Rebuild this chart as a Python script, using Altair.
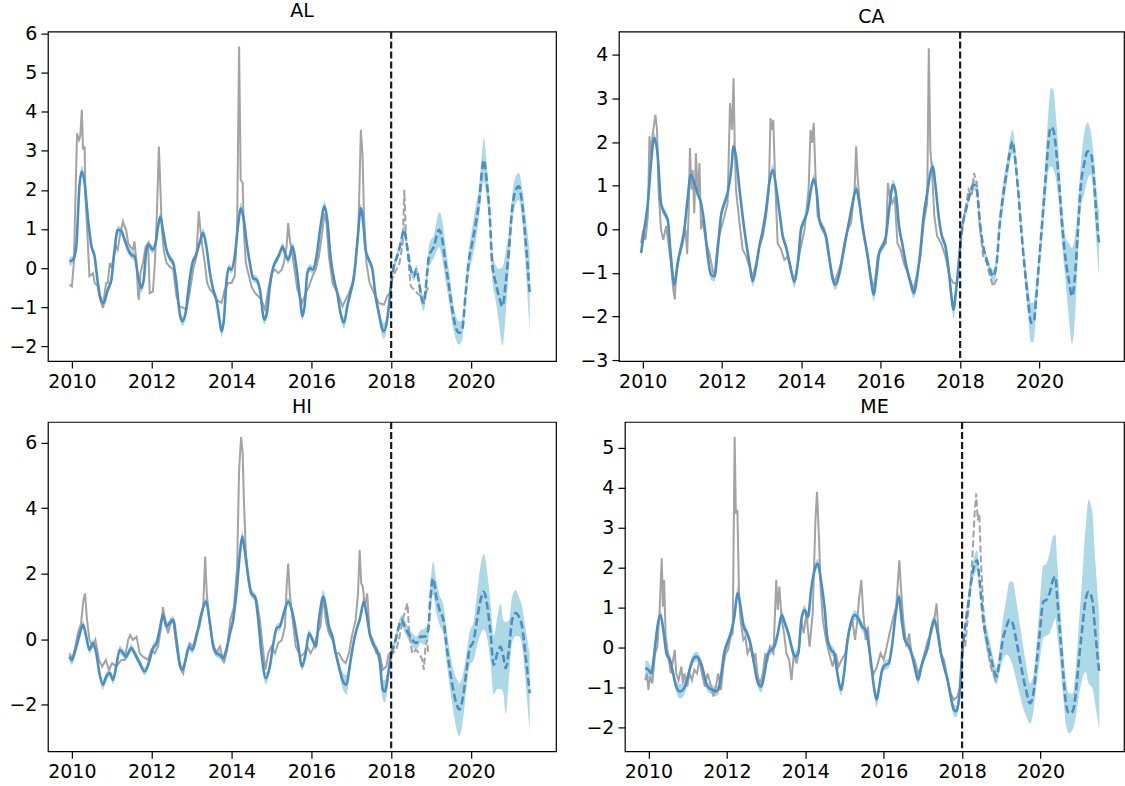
import altair as alt
import pandas as pd

# ---------------- data ----------------
# fitted / forecast series: (decimal year, value, band half-width)
AL_FIT = [
    (2009.94, 0.17, 0.12), (2010.03, 0.21, 0.10), (2010.11, 0.55, 0.10), (2010.19, 2.10, 0.12),
    (2010.25, 2.47, 0.15), (2010.32, 2.18, 0.12), (2010.40, 1.30, 0.10), (2010.49, 0.56, 0.10),
    (2010.57, 0.30, 0.10), (2010.65, -0.38, 0.10), (2010.74, -0.85, 0.12), (2010.80, -0.89, 0.12),
    (2010.90, -0.55, 0.10), (2010.99, -0.30, 0.10), (2011.07, 0.47, 0.10), (2011.15, 0.98, 0.10),
    (2011.24, 0.94, 0.10), (2011.32, 0.73, 0.10), (2011.41, 0.47, 0.10), (2011.49, 0.34, 0.10),
    (2011.57, 0.30, 0.10), (2011.66, -0.21, 0.10), (2011.74, -0.51, 0.12), (2011.80, -0.30, 0.10),
    (2011.87, 0.47, 0.10), (2011.93, 0.60, 0.10), (2012.02, 0.47, 0.10), (2012.10, 0.64, 0.10),
    (2012.16, 1.07, 0.10), (2012.22, 1.32, 0.12), (2012.28, 0.98, 0.10), (2012.37, 0.47, 0.10),
    (2012.45, 0.26, 0.10), (2012.54, 0.13, 0.10), (2012.62, -0.38, 0.10), (2012.70, -1.15, 0.12),
    (2012.77, -1.36, 0.12), (2012.85, -1.15, 0.12), (2012.94, -0.38, 0.10), (2013.02, 0.13, 0.10),
    (2013.10, 0.30, 0.10), (2013.20, 0.64, 0.10), (2013.29, 0.90, 0.12), (2013.37, 0.55, 0.10),
    (2013.46, -0.13, 0.10), (2013.54, -0.55, 0.10), (2013.62, -0.81, 0.10), (2013.71, -1.40, 0.12),
    (2013.75, -1.62, 0.15), (2013.81, -1.32, 0.12), (2013.87, -0.38, 0.10), (2013.93, 0.00, 0.10),
    (2014.00, -0.04, 0.10), (2014.08, 0.30, 0.10), (2014.17, 1.15, 0.12), (2014.23, 1.53, 0.15),
    (2014.31, 1.23, 0.12), (2014.38, 0.64, 0.10), (2014.46, 0.13, 0.10), (2014.54, -0.26, 0.10),
    (2014.63, -0.30, 0.10), (2014.71, -0.55, 0.10), (2014.82, -1.32, 0.12), (2014.88, -1.19, 0.12),
    (2014.96, -0.47, 0.10), (2015.05, 0.04, 0.10), (2015.13, 0.21, 0.10), (2015.21, 0.38, 0.10),
    (2015.28, 0.55, 0.10), (2015.34, 0.38, 0.10), (2015.42, 0.21, 0.10), (2015.53, 0.55, 0.10),
    (2015.61, 0.13, 0.10), (2015.73, -0.89, 0.12), (2015.77, -1.23, 0.12), (2015.83, -0.98, 0.12),
    (2015.90, -0.13, 0.10), (2015.96, 0.00, 0.10), (2016.04, -0.04, 0.10), (2016.13, 0.30, 0.10),
    (2016.23, 1.07, 0.10), (2016.33, 1.58, 0.12), (2016.40, 1.23, 0.10), (2016.48, 0.30, 0.10),
    (2016.57, -0.30, 0.10), (2016.65, -0.64, 0.10), (2016.73, -1.15, 0.12), (2016.82, -1.40, 0.15),
    (2016.90, -0.98, 0.12), (2016.98, -0.64, 0.10), (2017.07, -0.21, 0.10), (2017.15, 0.64, 0.10),
    (2017.24, 1.53, 0.12), (2017.30, 1.15, 0.10), (2017.36, 0.47, 0.10), (2017.44, 0.21, 0.10),
    (2017.53, -0.04, 0.10), (2017.61, -0.72, 0.12), (2017.69, -1.15, 0.15), (2017.78, -1.57, 0.20),
    (2017.82, -1.62, 0.20), (2017.90, -1.32, 0.15), (2018.00, -0.40, 0.12),
    (2018.07, 0.05, 0.12), (2018.15, 0.30, 0.12), (2018.24, 0.64, 0.12), (2018.32, 0.98, 0.15),
    (2018.40, 0.55, 0.12), (2018.49, -0.04, 0.10), (2018.57, -0.21, 0.12), (2018.63, -0.04, 0.12),
    (2018.70, -0.38, 0.15), (2018.78, -0.85, 0.20), (2018.82, -0.89, 0.20), (2018.90, -0.13, 0.25),
    (2018.95, 0.30, 0.30), (2019.07, 0.55, 0.30), (2019.20, 0.98, 0.45), (2019.28, 0.73, 0.50),
    (2019.36, 0.13, 0.45), (2019.45, -0.47, 0.40), (2019.53, -1.06, 0.35), (2019.61, -1.49, 0.30),
    (2019.70, -1.66, 0.30), (2019.78, -1.57, 0.25), (2019.86, -0.72, 0.25), (2019.94, 0.13, 0.30),
    (2020.03, 0.64, 0.40), (2020.12, 1.15, 0.45), (2020.20, 1.66, 0.40), (2020.27, 2.43, 0.45),
    (2020.32, 2.77, 0.55), (2020.39, 2.26, 0.45), (2020.47, 1.32, 0.35), (2020.53, 0.13, 0.40),
    (2020.62, -0.38, 0.45), (2020.70, -0.72, 0.70), (2020.79, -0.98, 1.00), (2020.87, -0.38, 0.80),
    (2020.95, 0.47, 0.50), (2021.03, 1.49, 0.35), (2021.12, 2.00, 0.35), (2021.20, 2.09, 0.35),
    (2021.28, 1.66, 0.40), (2021.36, 0.81, 0.60), (2021.47, -0.64, 1.05),
]
# observed series: (decimal year, value)
AL_OBS = [
    (2009.94, -0.42), (2010.00, -0.47), (2010.05, 0.13), (2010.13, 3.45), (2010.18, 3.28),
    (2010.21, 3.37), (2010.25, 4.05), (2010.28, 3.03), (2010.32, 3.11), (2010.34, 1.83),
    (2010.40, 0.64), (2010.44, -0.21), (2010.53, -0.13), (2010.57, -0.38), (2010.65, -0.47),
    (2010.69, -0.72), (2010.78, -1.02), (2010.82, -0.64), (2010.86, -0.38), (2010.90, -0.38),
    (2010.95, 0.13), (2010.99, 0.00), (2011.03, 0.21), (2011.11, 0.55), (2011.15, 0.47),
    (2011.20, 0.81), (2011.28, 1.19), (2011.32, 1.07), (2011.36, 0.98), (2011.41, 0.64),
    (2011.46, 0.55), (2011.53, 0.47), (2011.57, 0.68), (2011.62, 0.13), (2011.66, -0.72),
    (2011.68, -0.81), (2011.72, -0.13), (2011.78, 0.13), (2011.85, 0.55), (2011.91, 0.64),
    (2011.95, -0.64), (2012.03, -0.60), (2012.08, 0.13), (2012.13, 1.40), (2012.18, 3.11),
    (2012.22, 2.00), (2012.25, 1.07), (2012.30, 0.47), (2012.37, 0.13), (2012.45, 0.04),
    (2012.54, -0.04), (2012.62, -0.72), (2012.70, -0.98), (2012.79, -1.02), (2012.87, -1.06),
    (2012.95, -0.64), (2013.04, -0.04), (2013.12, 0.30), (2013.18, 1.45), (2013.22, 0.98),
    (2013.27, 0.55), (2013.33, 0.13), (2013.39, -0.38), (2013.46, -0.55), (2013.54, -0.64),
    (2013.62, -0.81), (2013.75, -0.89), (2013.83, -0.55), (2013.92, -0.38), (2014.00, -0.38),
    (2014.08, -0.21), (2014.14, 0.98), (2014.19, 5.67), (2014.23, 2.26), (2014.28, 2.18),
    (2014.31, 0.90), (2014.36, 0.13), (2014.42, -0.13), (2014.50, -0.47), (2014.59, -0.64),
    (2014.67, -0.72), (2014.75, -0.81), (2014.84, -1.06), (2014.92, -0.55), (2015.00, -0.13),
    (2015.09, -0.04), (2015.17, -0.13), (2015.26, -0.04), (2015.31, 0.13), (2015.38, 0.55),
    (2015.42, 1.15), (2015.46, 0.73), (2015.53, 0.30), (2015.65, -0.55), (2015.77, -0.89),
    (2015.86, -0.64), (2015.94, -0.47), (2016.03, -0.21), (2016.11, -0.04), (2016.19, 0.30),
    (2016.28, 0.98), (2016.33, 1.40), (2016.38, 1.15), (2016.44, 0.30), (2016.53, -0.38),
    (2016.61, -0.55), (2016.69, -0.72), (2016.78, -0.98), (2016.86, -0.81), (2016.94, -0.64),
    (2017.03, -0.38), (2017.11, 0.13), (2017.18, 0.98), (2017.24, 3.54), (2017.28, 2.94),
    (2017.32, 1.32), (2017.38, 0.13), (2017.46, -0.38), (2017.57, -0.64), (2017.69, -0.89),
    (2017.82, -0.94), (2017.90, -0.72), (2017.96, -0.64),
    (2018.04, -0.21), (2018.13, -0.04), (2018.21, 0.13), (2018.29, 0.64), (2018.33, 2.00),
    (2018.37, 0.81), (2018.43, 0.21), (2018.49, -0.47), (2018.57, -0.55), (2018.65, -0.64),
    (2018.74, -0.72), (2018.82, -0.85), (2018.90, -0.55), (2018.96, -0.47),
]

CA_FIT = [
    (2009.96, -0.54, 0.12), (2010.04, 0.00, 0.10), (2010.13, 0.60, 0.10), (2010.21, 1.52, 0.10),
    (2010.29, 2.09, 0.12), (2010.38, 1.67, 0.10), (2010.46, 0.60, 0.10), (2010.55, 0.37, 0.10),
    (2010.63, 0.22, 0.10), (2010.71, -0.62, 0.10), (2010.80, -1.27, 0.12), (2010.88, -0.77, 0.10),
    (2010.97, -0.39, 0.10), (2011.05, 0.00, 0.10), (2011.13, 0.68, 0.10), (2011.21, 1.25, 0.12),
    (2011.30, 1.06, 0.10), (2011.38, 0.83, 0.10), (2011.47, 0.60, 0.10), (2011.55, 0.14, 0.10),
    (2011.64, -0.62, 0.10), (2011.72, -1.04, 0.12), (2011.81, -1.08, 0.12), (2011.89, -0.47, 0.10),
    (2011.97, 0.29, 0.10), (2012.06, 0.60, 0.10), (2012.14, 0.83, 0.10), (2012.23, 1.36, 0.10),
    (2012.29, 1.90, 0.12), (2012.35, 1.67, 0.10), (2012.44, 0.91, 0.10), (2012.52, 0.29, 0.10),
    (2012.61, -0.32, 0.10), (2012.69, -0.77, 0.10), (2012.77, -1.19, 0.12), (2012.86, -0.85, 0.10),
    (2012.94, -0.39, 0.10), (2013.03, 0.00, 0.10), (2013.11, 0.45, 0.10), (2013.19, 1.06, 0.10),
    (2013.28, 1.36, 0.12), (2013.36, 0.98, 0.10), (2013.45, 0.37, 0.10), (2013.53, -0.16, 0.10),
    (2013.61, -0.39, 0.10), (2013.70, -0.77, 0.12), (2013.82, -1.19, 0.15), (2013.91, -0.77, 0.12),
    (2013.99, 0.00, 0.10), (2014.08, 0.22, 0.10), (2014.16, 0.45, 0.10), (2014.24, 0.91, 0.10),
    (2014.31, 1.15, 0.12), (2014.39, 0.83, 0.10), (2014.45, 0.22, 0.10), (2014.54, 0.00, 0.10),
    (2014.62, -0.16, 0.10), (2014.71, -0.70, 0.10), (2014.79, -1.15, 0.12), (2014.86, -1.27, 0.12),
    (2014.96, -1.00, 0.10), (2015.04, -0.62, 0.10), (2015.13, -0.16, 0.10), (2015.21, 0.22, 0.10),
    (2015.29, 0.60, 0.10), (2015.38, 0.93, 0.10), (2015.46, 0.60, 0.10), (2015.55, 0.00, 0.10),
    (2015.67, -0.62, 0.10), (2015.75, -1.15, 0.12), (2015.82, -1.50, 0.15), (2015.90, -1.00, 0.12),
    (2015.96, -0.54, 0.10), (2016.04, -0.39, 0.10), (2016.13, -0.16, 0.10), (2016.21, 0.45, 0.10),
    (2016.31, 1.02, 0.12), (2016.38, 0.83, 0.10), (2016.46, 0.07, 0.10), (2016.54, -0.32, 0.10),
    (2016.63, -0.77, 0.10), (2016.75, -1.23, 0.12), (2016.83, -1.46, 0.12), (2016.92, -1.08, 0.10),
    (2017.00, -0.47, 0.10), (2017.08, 0.29, 0.10), (2017.17, 0.83, 0.10), (2017.25, 1.29, 0.10),
    (2017.31, 1.44, 0.12), (2017.38, 0.98, 0.10), (2017.46, 0.29, 0.10), (2017.54, -0.16, 0.10),
    (2017.63, -0.39, 0.10), (2017.71, -0.92, 0.12), (2017.79, -1.61, 0.18), (2017.83, -1.84, 0.20),
    (2017.90, -1.38, 0.15), (2018.00, -0.39, 0.10),
    (2018.07, 0.14, 0.10), (2018.17, 0.53, 0.10), (2018.25, 0.83, 0.12), (2018.35, 1.02, 0.12),
    (2018.42, 0.91, 0.12), (2018.50, 0.14, 0.10), (2018.58, -0.39, 0.10), (2018.67, -0.70, 0.10),
    (2018.75, -0.92, 0.12), (2018.83, -1.08, 0.15), (2018.92, -0.77, 0.20), (2019.00, 0.14, 0.25),
    (2019.08, 0.75, 0.30), (2019.17, 1.29, 0.25), (2019.25, 1.75, 0.25), (2019.32, 2.01, 0.27),
    (2019.38, 1.67, 0.25), (2019.46, 0.91, 0.20), (2019.54, 0.00, 0.20), (2019.63, -0.92, 0.25),
    (2019.71, -1.61, 0.35), (2019.79, -2.14, 0.45), (2019.85, -2.14, 0.45), (2019.92, -1.53, 0.35),
    (2020.00, -0.62, 0.30), (2020.08, 0.29, 0.35), (2020.17, 1.36, 0.50), (2020.23, 2.05, 0.70),
    (2020.29, 2.34, 0.90), (2020.35, 2.28, 0.90), (2020.42, 1.82, 0.70), (2020.50, 0.98, 0.50),
    (2020.58, 0.00, 0.45), (2020.67, -0.77, 0.55), (2020.75, -1.23, 0.90), (2020.82, -1.53, 1.10),
    (2020.88, -1.23, 1.00), (2020.96, -0.16, 0.60), (2021.04, 0.98, 0.50), (2021.13, 1.52, 0.70),
    (2021.21, 1.79, 0.65), (2021.29, 1.75, 0.50), (2021.38, 1.06, 0.50), (2021.43, 0.37, 0.60),
    (2021.50, -0.32, 0.75),
]
CA_OBS = [
    (2009.96, -0.32), (2010.00, -0.08), (2010.07, -0.24), (2010.13, 0.30), (2010.17, 2.13),
    (2010.21, 1.67), (2010.25, 2.17), (2010.32, 2.62), (2010.36, 2.28), (2010.40, 0.91),
    (2010.46, 0.00), (2010.52, -0.24), (2010.59, 0.07), (2010.66, -0.39), (2010.71, -0.77),
    (2010.77, -1.38), (2010.81, -1.61), (2010.84, -1.08), (2010.92, -0.62), (2011.01, -0.32),
    (2011.08, 0.00), (2011.12, -0.57), (2011.16, 0.45), (2011.19, 1.86), (2011.23, 0.91),
    (2011.26, 1.36), (2011.30, 0.37), (2011.34, 1.75), (2011.39, 0.75), (2011.43, 1.52),
    (2011.47, 0.00), (2011.51, 0.22), (2011.60, -0.32), (2011.68, -0.54), (2011.76, -0.92),
    (2011.81, -1.08), (2011.89, -0.32), (2011.97, 0.00), (2012.06, 0.30), (2012.14, 0.60),
    (2012.20, 2.89), (2012.25, 2.28), (2012.29, 3.46), (2012.32, 1.90), (2012.35, 0.91),
    (2012.44, 0.14), (2012.52, -0.47), (2012.61, -0.62), (2012.69, -0.85), (2012.77, -1.08),
    (2012.86, -0.77), (2012.94, -0.39), (2013.03, -0.16), (2013.11, 0.30), (2013.18, 0.91),
    (2013.22, 2.55), (2013.26, 2.28), (2013.29, 2.51), (2013.34, 1.06), (2013.40, -0.32),
    (2013.49, -0.47), (2013.57, -0.70), (2013.66, -0.62), (2013.74, -0.92), (2013.82, -1.23),
    (2013.91, -0.77), (2013.99, -0.39), (2014.08, 0.00), (2014.18, 0.91), (2014.23, 2.28),
    (2014.27, 1.98), (2014.31, 2.44), (2014.35, 1.36), (2014.41, 0.30), (2014.50, 0.14),
    (2014.58, 0.00), (2014.66, -0.47), (2014.75, -0.92), (2014.83, -1.23), (2014.92, -1.00),
    (2015.00, -0.77), (2015.08, -0.32), (2015.17, 0.00), (2015.25, 0.14), (2015.34, 0.91),
    (2015.38, 1.90), (2015.42, 1.14), (2015.50, 0.30), (2015.59, -0.16), (2015.75, -1.08),
    (2015.83, -1.38), (2015.92, -0.62), (2016.00, -0.47), (2016.13, -0.32), (2016.18, 1.06),
    (2016.23, 0.75), (2016.29, 0.60), (2016.35, 0.75), (2016.42, -0.32), (2016.50, -0.47),
    (2016.58, -0.77), (2016.71, -1.08), (2016.83, -1.38), (2016.92, -1.00), (2017.00, -0.62),
    (2017.08, 0.14), (2017.17, 0.60), (2017.21, 4.15), (2017.25, 1.82), (2017.29, 1.36),
    (2017.35, 0.30), (2017.42, -0.16), (2017.52, -0.32), (2017.63, -0.62), (2017.73, -1.08),
    (2017.83, -1.23), (2017.92, -1.23), (2017.96, -0.92),
    (2018.04, 0.00), (2018.13, 0.45), (2018.21, 0.91), (2018.29, 0.75), (2018.35, 1.29),
    (2018.42, 1.06), (2018.50, 0.00), (2018.58, -0.62), (2018.67, -0.77), (2018.75, -1.08),
    (2018.83, -1.31), (2018.92, -1.15), (2018.98, -1.08),
]

HI_FIT = [
    (2009.94, -0.53, 0.15), (2010.00, -0.63, 0.15), (2010.09, -0.32, 0.12), (2010.18, 0.08, 0.12),
    (2010.28, 0.44, 0.12), (2010.36, 0.08, 0.12), (2010.44, -0.32, 0.12), (2010.53, -0.12, 0.12),
    (2010.61, -0.42, 0.12), (2010.69, -1.03, 0.12), (2010.78, -1.39, 0.15), (2010.86, -1.14, 0.12),
    (2010.95, -1.03, 0.12), (2011.03, -1.24, 0.12), (2011.11, -0.83, 0.12), (2011.20, -0.32, 0.12),
    (2011.28, -0.42, 0.12), (2011.36, -0.53, 0.12), (2011.49, -0.27, 0.12), (2011.57, -0.42, 0.12),
    (2011.70, -0.73, 0.12), (2011.82, -0.98, 0.12), (2011.95, -0.63, 0.12), (2012.03, -0.27, 0.12),
    (2012.12, -0.12, 0.12), (2012.20, 0.29, 0.12), (2012.28, 0.75, 0.15), (2012.37, 0.39, 0.12),
    (2012.45, 0.49, 0.12), (2012.54, 0.59, 0.12), (2012.62, -0.02, 0.12), (2012.70, -0.73, 0.12),
    (2012.77, -0.93, 0.12), (2012.85, -0.63, 0.12), (2012.94, -0.22, 0.12), (2013.02, -0.32, 0.12),
    (2013.12, 0.08, 0.12), (2013.25, 0.80, 0.12), (2013.36, 1.15, 0.12), (2013.46, 0.49, 0.12),
    (2013.54, -0.22, 0.12), (2013.62, -0.42, 0.12), (2013.71, -0.48, 0.12), (2013.79, -0.58, 0.12),
    (2013.87, -0.32, 0.12), (2013.96, 0.18, 0.12), (2014.04, 0.59, 0.12), (2014.13, 1.50, 0.12),
    (2014.21, 2.62, 0.15), (2014.27, 3.13, 0.18), (2014.33, 2.72, 0.15), (2014.42, 1.91, 0.12),
    (2014.50, 1.40, 0.12), (2014.59, 1.30, 0.12), (2014.67, 0.59, 0.12), (2014.75, -0.42, 0.12),
    (2014.86, -1.19, 0.18), (2014.96, -0.83, 0.12), (2015.05, -0.12, 0.12), (2015.13, 0.34, 0.12),
    (2015.21, 0.39, 0.12), (2015.31, 0.80, 0.12), (2015.42, 1.15, 0.12), (2015.53, 0.80, 0.12),
    (2015.65, -0.02, 0.12), (2015.77, -0.83, 0.12), (2015.86, -0.42, 0.12), (2015.94, 0.18, 0.12),
    (2016.03, -0.02, 0.12), (2016.11, -0.22, 0.12), (2016.19, 0.59, 0.15), (2016.30, 1.30, 0.20),
    (2016.36, 1.00, 0.15), (2016.44, 0.39, 0.12), (2016.53, 0.08, 0.12), (2016.61, -0.42, 0.15),
    (2016.69, -0.83, 0.18), (2016.78, -1.24, 0.25), (2016.88, -1.39, 0.30), (2016.96, -0.83, 0.20),
    (2017.04, -0.22, 0.15), (2017.13, 0.29, 0.12), (2017.21, 0.59, 0.12), (2017.32, 1.15, 0.15),
    (2017.38, 0.80, 0.12), (2017.46, 0.18, 0.12), (2017.54, -0.12, 0.12), (2017.63, -0.32, 0.15),
    (2017.71, -0.63, 0.20), (2017.79, -1.54, 0.30), (2017.84, -1.59, 0.35), (2017.93, -1.03, 0.25),
    (2018.00, -0.42, 0.15),
    (2018.07, -0.22, 0.15), (2018.15, 0.18, 0.15), (2018.26, 0.59, 0.15), (2018.34, 0.39, 0.20),
    (2018.43, 0.18, 0.20), (2018.53, -0.02, 0.20), (2018.63, -0.12, 0.20), (2018.74, 0.08, 0.20),
    (2018.84, 0.08, 0.25), (2018.93, 0.29, 0.30), (2018.98, 1.20, 0.40), (2019.05, 1.86, 0.50),
    (2019.13, 1.30, 0.50), (2019.21, 0.90, 0.45), (2019.31, 0.59, 0.45), (2019.39, -0.22, 0.50),
    (2019.47, -0.93, 0.55), (2019.57, -1.64, 0.65), (2019.66, -2.05, 0.80), (2019.71, -2.15, 0.80),
    (2019.80, -1.75, 0.70), (2019.88, -1.03, 0.55), (2019.96, -0.32, 0.50), (2020.07, -0.02, 0.60),
    (2020.15, 0.59, 0.80), (2020.24, 1.20, 1.05), (2020.32, 1.45, 1.15), (2020.41, 1.00, 1.00),
    (2020.49, 0.18, 0.90), (2020.57, -0.78, 0.90), (2020.66, -0.42, 1.10), (2020.74, -0.22, 1.30),
    (2020.81, -0.53, 1.10), (2020.87, -0.88, 1.40), (2020.95, -0.32, 0.90), (2021.03, 0.59, 0.70),
    (2021.12, 0.80, 0.70), (2021.20, 0.69, 0.60), (2021.28, 0.39, 0.60), (2021.36, -0.42, 0.80),
    (2021.47, -1.64, 1.20),
]
HI_OBS = [
    (2009.94, -0.43), (2010.00, -0.63), (2010.07, -0.32), (2010.15, 0.18), (2010.23, 0.49),
    (2010.29, 1.20), (2010.33, 1.40), (2010.38, 0.59), (2010.44, -0.02), (2010.53, -0.22),
    (2010.59, -0.02), (2010.68, -0.63), (2010.76, -0.83), (2010.85, -0.63), (2010.93, -0.93),
    (2011.01, -0.73), (2011.11, -0.83), (2011.24, -0.63), (2011.32, -0.63), (2011.41, -0.02),
    (2011.46, 0.13), (2011.53, -0.02), (2011.62, 0.08), (2011.70, -0.43), (2011.78, -0.53),
    (2011.91, -0.63), (2011.99, -0.32), (2012.08, -0.43), (2012.16, -0.22), (2012.24, 0.39),
    (2012.28, 0.98), (2012.34, 0.59), (2012.41, 0.18), (2012.49, 0.59), (2012.55, 0.49),
    (2012.62, -0.22), (2012.70, -0.83), (2012.79, -1.04), (2012.87, -0.43), (2012.95, -0.12),
    (2013.04, -0.22), (2013.12, 0.18), (2013.20, 0.39), (2013.29, 0.98), (2013.34, 2.52),
    (2013.38, 1.40), (2013.44, 0.59), (2013.52, -0.02), (2013.61, -0.43), (2013.71, -0.22),
    (2013.81, -0.73), (2013.89, -0.32), (2013.97, 0.59), (2014.06, 0.98), (2014.14, 2.20),
    (2014.19, 5.16), (2014.24, 6.17), (2014.28, 5.67), (2014.31, 4.24), (2014.36, 2.62),
    (2014.42, 1.81), (2014.48, 1.40), (2014.54, 1.30), (2014.63, 1.20), (2014.71, 0.59),
    (2014.78, -0.22), (2014.85, -0.93), (2014.92, -0.43), (2015.00, -0.22), (2015.09, -0.43),
    (2015.17, -0.12), (2015.26, -0.02), (2015.34, 0.39), (2015.38, 1.60), (2015.42, 2.31),
    (2015.46, 1.40), (2015.53, 0.59), (2015.61, -0.22), (2015.73, -0.53), (2015.82, -0.43),
    (2015.90, -0.22), (2015.98, -0.43), (2016.07, -0.22), (2016.15, 0.18), (2016.23, 0.39),
    (2016.30, 1.30), (2016.36, 0.59), (2016.44, 0.18), (2016.53, -0.02), (2016.61, -0.43),
    (2016.69, -0.43), (2016.78, -0.63), (2016.86, -0.73), (2016.94, -0.43), (2017.03, 0.18),
    (2017.11, 0.59), (2017.17, 1.40), (2017.21, 2.72), (2017.25, 1.70), (2017.29, 1.60),
    (2017.34, 0.98), (2017.40, 1.40), (2017.46, 0.18), (2017.54, -0.02), (2017.63, -0.43),
    (2017.71, -0.43), (2017.79, -0.93), (2017.88, -0.83), (2017.94, -0.43),
    (2018.04, -0.43), (2018.13, -0.32), (2018.21, 0.08), (2018.29, 0.59), (2018.38, 0.98),
    (2018.41, 1.10), (2018.45, 0.18), (2018.53, -0.43), (2018.62, -0.32), (2018.70, -0.43),
    (2018.78, -0.63), (2018.82, -0.93), (2018.86, -0.22), (2018.90, -0.02), (2018.93, -0.43),
]

ME_FIT = [
    (2009.92, -0.52, 0.20), (2010.00, -0.56, 0.20), (2010.07, -0.65, 0.15), (2010.15, -0.15, 0.12),
    (2010.23, 0.52, 0.12), (2010.31, 0.81, 0.12), (2010.38, 0.44, 0.12), (2010.46, -0.15, 0.12),
    (2010.55, -0.31, 0.12), (2010.63, -0.65, 0.12), (2010.71, -0.98, 0.15), (2010.80, -1.10, 0.18),
    (2010.88, -1.06, 0.18), (2010.96, -0.90, 0.15), (2011.05, -0.56, 0.12), (2011.13, -0.31, 0.12),
    (2011.22, -0.23, 0.12), (2011.30, -0.31, 0.12), (2011.38, -0.52, 0.12), (2011.47, -0.90, 0.12),
    (2011.55, -1.02, 0.12), (2011.64, -1.06, 0.12), (2011.72, -1.10, 0.12), (2011.78, -1.06, 0.12),
    (2011.85, -0.73, 0.12), (2011.93, -0.15, 0.12), (2012.01, 0.10, 0.12), (2012.10, 0.35, 0.12),
    (2012.18, 0.69, 0.12), (2012.28, 1.36, 0.15), (2012.35, 1.02, 0.12), (2012.43, 0.52, 0.15),
    (2012.52, 0.35, 0.12), (2012.60, 0.10, 0.12), (2012.68, -0.31, 0.12), (2012.77, -0.81, 0.12),
    (2012.88, -0.98, 0.15), (2012.96, -0.65, 0.12), (2013.05, -0.15, 0.12), (2013.13, -0.06, 0.12),
    (2013.21, 0.02, 0.12), (2013.30, 0.35, 0.12), (2013.40, 0.81, 0.12), (2013.48, 0.60, 0.12),
    (2013.57, 0.35, 0.12), (2013.65, 0.02, 0.12), (2013.73, -0.23, 0.12), (2013.82, -0.15, 0.12),
    (2013.90, 0.69, 0.12), (2013.98, 0.94, 0.12), (2014.07, 0.77, 0.12), (2014.15, 1.44, 0.12),
    (2014.24, 1.94, 0.12), (2014.32, 2.10, 0.12), (2014.40, 1.69, 0.12), (2014.49, 1.02, 0.12),
    (2014.57, 0.19, 0.12), (2014.66, -0.06, 0.12), (2014.74, -0.15, 0.12), (2014.82, -0.65, 0.12),
    (2014.91, -1.06, 0.15), (2014.99, -0.65, 0.12), (2015.08, 0.19, 0.12), (2015.16, 0.60, 0.12),
    (2015.27, 0.81, 0.12), (2015.37, 0.69, 0.12), (2015.45, 0.52, 0.12), (2015.54, 0.44, 0.12),
    (2015.67, -0.31, 0.12), (2015.75, -0.98, 0.15), (2015.82, -1.31, 0.18), (2015.90, -0.90, 0.15),
    (2015.96, -0.56, 0.12), (2016.04, -0.44, 0.12), (2016.13, -0.40, 0.12), (2016.21, 0.02, 0.12),
    (2016.32, 0.94, 0.12), (2016.39, 1.27, 0.12), (2016.46, 0.69, 0.12), (2016.54, 0.19, 0.12),
    (2016.63, 0.06, 0.12), (2016.71, -0.15, 0.12), (2016.79, -0.48, 0.12), (2016.88, -0.81, 0.12),
    (2016.96, -0.48, 0.12), (2017.04, -0.23, 0.12), (2017.13, 0.02, 0.12), (2017.21, 0.44, 0.12),
    (2017.29, 0.69, 0.12), (2017.38, 0.35, 0.12), (2017.46, -0.15, 0.12), (2017.54, -0.48, 0.12),
    (2017.63, -0.81, 0.12), (2017.71, -1.23, 0.15), (2017.79, -1.56, 0.15), (2017.85, -1.60, 0.15),
    (2017.92, -1.31, 0.12), (2018.00, -0.15, 0.12),
    (2018.08, 0.52, 0.12), (2018.17, 1.19, 0.15), (2018.25, 1.77, 0.20), (2018.33, 2.10, 0.25),
    (2018.38, 2.18, 0.25), (2018.46, 1.52, 0.20), (2018.54, 0.69, 0.25), (2018.63, 0.19, 0.30),
    (2018.71, -0.15, 0.30), (2018.79, -0.48, 0.25), (2018.88, -0.73, 0.20), (2018.96, -0.31, 0.30),
    (2019.04, 0.19, 0.50), (2019.13, 0.52, 0.70), (2019.21, 0.69, 0.95), (2019.29, 0.60, 1.05),
    (2019.38, 0.19, 1.00), (2019.46, -0.23, 0.90), (2019.54, -0.65, 0.80), (2019.63, -1.06, 0.65),
    (2019.73, -1.40, 0.50), (2019.82, -1.15, 0.45), (2019.90, -0.40, 0.50), (2019.98, 0.35, 0.70),
    (2020.07, 1.14, 0.90), (2020.15, 1.19, 0.90), (2020.23, 1.35, 1.00), (2020.32, 1.69, 1.10),
    (2020.38, 1.77, 1.05), (2020.43, 1.19, 0.90), (2020.50, 0.35, 0.70), (2020.58, -0.65, 0.60),
    (2020.65, -1.40, 0.55), (2020.73, -1.65, 0.50), (2020.82, -1.60, 0.45), (2020.90, -1.15, 0.60),
    (2020.98, -0.31, 0.90), (2021.07, 0.52, 1.30), (2021.15, 1.19, 1.80), (2021.23, 1.39, 2.30),
    (2021.32, 1.19, 2.20), (2021.40, 0.35, 1.80), (2021.50, -0.65, 1.40),
]
ME_OBS = [
    (2009.92, -0.82), (2009.96, -0.65), (2010.00, -1.06), (2010.04, -0.73), (2010.10, -0.90),
    (2010.17, -0.15), (2010.23, 0.02), (2010.29, 1.02), (2010.34, 2.23), (2010.37, 1.02),
    (2010.40, 1.69), (2010.44, 0.27), (2010.50, -0.15), (2010.57, -0.65), (2010.63, -0.31),
    (2010.67, -0.06), (2010.71, -0.65), (2010.77, -0.82), (2010.84, -0.48), (2010.88, -0.90),
    (2010.92, -0.65), (2010.99, -0.98), (2011.05, -0.65), (2011.11, -0.82), (2011.17, -0.56),
    (2011.24, -0.65), (2011.30, -0.31), (2011.38, -0.73), (2011.44, -0.98), (2011.51, -0.65),
    (2011.58, -0.90), (2011.66, -1.23), (2011.72, -0.98), (2011.78, -0.65), (2011.85, -1.06),
    (2011.91, -0.48), (2011.97, -0.15), (2012.03, -0.06), (2012.10, 0.27), (2012.15, 0.35),
    (2012.20, 5.27), (2012.23, 3.35), (2012.27, 3.44), (2012.31, 1.36), (2012.35, 0.69),
    (2012.42, 0.19), (2012.47, 0.27), (2012.53, -0.15), (2012.60, 0.02), (2012.67, -0.31),
    (2012.73, -0.15), (2012.79, -0.73), (2012.85, -0.90), (2012.92, -0.65), (2012.98, -0.15),
    (2013.04, -0.31), (2013.10, 0.02), (2013.19, -0.15), (2013.26, 1.69), (2013.30, 0.94),
    (2013.34, 1.52), (2013.40, 0.69), (2013.46, 0.35), (2013.52, -0.15), (2013.59, -0.31),
    (2013.65, -0.82), (2013.71, -0.15), (2013.78, -0.40), (2013.84, -0.06), (2013.90, 0.69),
    (2013.96, 0.35), (2014.03, 0.85), (2014.11, 0.02), (2014.19, 0.85), (2014.26, 3.18),
    (2014.30, 3.89), (2014.35, 2.77), (2014.39, 1.52), (2014.45, 0.69), (2014.53, 0.19),
    (2014.61, -0.15), (2014.70, -0.48), (2014.78, -0.15), (2014.85, -0.48), (2014.93, -0.31),
    (2015.02, -0.15), (2015.08, 0.19), (2015.13, 0.44), (2015.20, 0.69), (2015.27, 0.19),
    (2015.33, 0.69), (2015.37, 1.19), (2015.43, 1.69), (2015.48, 0.85), (2015.54, 0.19),
    (2015.60, 0.52), (2015.67, -0.48), (2015.75, -0.65), (2015.83, -0.48), (2015.92, -0.15),
    (2016.00, -0.31), (2016.08, 0.02), (2016.15, 0.35), (2016.23, 0.69), (2016.32, 1.02),
    (2016.40, 2.18), (2016.44, 1.52), (2016.50, 0.69), (2016.58, 0.02), (2016.65, 0.35),
    (2016.71, -0.15), (2016.79, -0.31), (2016.88, -0.65), (2016.96, -0.48), (2017.04, -0.15),
    (2017.13, 0.19), (2017.21, 0.35), (2017.29, 0.69), (2017.35, 1.10), (2017.40, 0.35),
    (2017.46, -0.15), (2017.54, -0.31), (2017.63, -0.82), (2017.71, -1.15), (2017.79, -1.31),
    (2017.88, -1.23), (2017.96, -0.98),
    (2018.04, 0.27), (2018.08, 0.02), (2018.17, 1.02), (2018.25, 2.02), (2018.32, 3.35),
    (2018.36, 3.85), (2018.40, 3.18), (2018.44, 3.35), (2018.48, 2.18), (2018.54, 1.02),
    (2018.60, 0.35), (2018.67, -0.15), (2018.73, -0.48), (2018.79, -0.65), (2018.85, -0.82),
    (2018.90, -0.65),
]

PANEL_NAMES = ["AL", "CA", "HI", "ME"]
Y_DOMAINS = {"AL": [-2.38, 6.05], "CA": [-3.02, 4.53], "HI": [-3.42, 6.63], "ME": [-2.6, 5.64]}
Y_TICKS = {"AL": [-2, -1, 0, 1, 2, 3, 4, 5, 6], "CA": [-3, -2, -1, 0, 1, 2, 3, 4],
           "HI": [-2, 0, 2, 4, 6], "ME": [-2, -1, 0, 1, 2, 3, 4, 5]}
X_TICKS = [2010, 2012, 2014, 2016, 2018, 2020]
X_DOMAIN = [2009.4, 2022.13]
SPLIT_YEAR = 2018.0

# ---------------- styling ----------------
BLUE = "#4a8fc4"
BAND = "#add8e6"
GREY = "#a3a3a3"
FONT = "DejaVu Sans"
FS = 19
PANEL_W = {"AL": 509, "CA": 506, "HI": 509, "ME": 500}
PANEL_H = 330


def panel(name, fit, obs):
    f = pd.DataFrame(fit, columns=["t", "v", "hw"])
    f["lo"] = f["v"] - f["hw"]
    f["hi"] = f["v"] + f["hw"]
    o = pd.DataFrame(obs, columns=["t", "v"])
    f_pre = f[f["t"] <= SPLIT_YEAR]
    f_post = f[f["t"] >= SPLIT_YEAR]
    o_pre = o[o["t"] < SPLIT_YEAR]
    o_post = pd.concat([o_pre.tail(1), o[o["t"] >= SPLIT_YEAR]])

    xs = alt.Scale(domain=X_DOMAIN, nice=False, zero=False)
    ys = alt.Scale(domain=Y_DOMAINS[name], nice=False, zero=False)
    common = dict(title=None, grid=False, domain=False, labelFont=FONT, labelFontSize=FS,
                  labelColor="black", tickColor="black", tickSize=7, tickWidth=1.2,
                  labelPadding=4)
    xax = alt.Axis(values=X_TICKS, format="d", **common)
    yax = alt.Axis(values=Y_TICKS[name], **common)

    def X():
        return alt.X("t:Q", scale=xs, axis=xax)

    band = alt.Chart(f).mark_area(color=BAND, opacity=1, interpolate="monotone").encode(
        x=X(), y=alt.Y("lo:Q", scale=ys, axis=yax), y2="hi:Q")
    grey1 = alt.Chart(o_pre).mark_line(color=GREY, strokeWidth=2).encode(
        x=X(), y=alt.Y("v:Q", scale=ys, axis=yax))
    grey2 = alt.Chart(o_post).mark_line(color=GREY, strokeWidth=2, strokeDash=[7, 3]).encode(
        x=X(), y=alt.Y("v:Q", scale=ys, axis=yax))
    blue1 = alt.Chart(f_pre).mark_line(color=BLUE, strokeWidth=2.6, interpolate="monotone").encode(
        x=X(), y=alt.Y("v:Q", scale=ys, axis=yax))
    blue2 = alt.Chart(f_post).mark_line(color=BLUE, strokeWidth=2.6, strokeDash=[8, 3.5],
                                        interpolate="monotone").encode(
        x=X(), y=alt.Y("v:Q", scale=ys, axis=yax))
    vline = alt.Chart(pd.DataFrame({"t": [SPLIT_YEAR]})).mark_rule(
        color="#1a1a1a", strokeWidth=2.2, strokeDash=[7, 3]).encode(x=X())

    return alt.layer(band, grey1, grey2, blue1, blue2, vline).properties(
        width=PANEL_W[name], height=PANEL_H,
        title=alt.TitleParams(text=name, fontSize=FS, font=FONT, fontWeight="normal",
                              color="black", offset=4, anchor="middle"))


DATA = {"AL": (AL_FIT, AL_OBS), "CA": (CA_FIT, CA_OBS), "HI": (HI_FIT, HI_OBS), "ME": (ME_FIT, ME_OBS)}
P = {n: panel(n, *DATA[n]) for n in PANEL_NAMES}

chart = alt.vconcat(
    alt.hconcat(P["AL"], P["CA"], spacing=22),
    alt.hconcat(P["HI"], P["ME"], spacing=28),
    spacing=5,
).properties(
    padding={"left": 8, "top": 0, "right": 0, "bottom": 0},
    background="white",
).configure_view(
    stroke="black", strokeWidth=1.2
).configure_axis(
    labelFont=FONT, labelFontSize=FS, labelColor="black", tickColor="black",
    tickSize=7, tickWidth=1.2, domain=False, grid=False, labelPadding=4,
)

chart.save("out.html", embed_options={"renderer": "svg", "actions": False})
